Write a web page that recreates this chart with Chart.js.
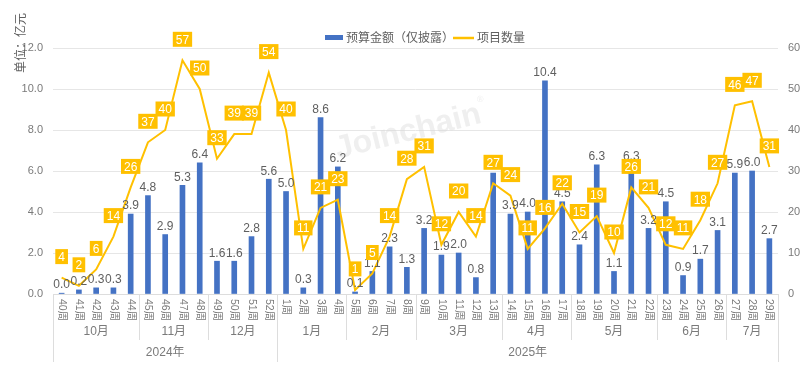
<!DOCTYPE html>
<html>
<head>
<meta charset="utf-8">
<script src="https://cdn.jsdelivr.net/npm/chart.js@4"></script>
<style>
  html, body { margin: 0; padding: 0; background: #fff; }
  #wrap { width: 803px; height: 377px; }
</style>
</head>
<body>
<div id="wrap"><canvas id="chart" width="803" height="377"></canvas></div>
<script>
const weeks = ['40周','41周','42周','43周','44周','45周','46周','47周','48周','49周','50周','51周','52周',
  '1周','2周','3周','4周','5周','6周','7周','8周','9周','10周','11周','12周','13周','14周','15周','16周','17周',
  '18周','19周','20周','21周','22周','23周','24周','25周','26周','27周','28周','29周'];
// 预算金额（亿元）
const budget = [0.04, 0.2, 0.3, 0.3, 3.9, 4.8, 2.9, 5.3, 6.4, 1.6, 1.6, 2.8, 5.6,
  5.0, 0.3, 8.6, 6.2, 0.1, 1.1, 2.3, 1.3, 3.2, 1.9, 2.0, 0.8, 5.9, 3.9, 4.0, 10.4, 4.5,
  2.4, 6.3, 1.1, 6.3, 3.2, 4.5, 0.9, 1.7, 3.1, 5.9, 6.0, 2.7];
// 项目数量
const counts = [4, 2, 6, 14, 26, 37, 40, 57, 50, 33, 39, 39, 54,
  40, 11, 21, 23, 1, 5, 14, 28, 31, 12, 20, 14, 27, 24, 11, 16, 22,
  15, 19, 10, 26, 21, 12, 11, 18, 27, 46, 47, 31];
const months = ['10月','11月','12月','1月','2月','3月','4月','5月','6月','7月'];
const monthSizes = [5, 4, 4, 4, 4, 5, 4, 5, 4, 3];
const years = ['2024年','2025年'];
const yearSizes = [13, 29];

const FONT = '"Liberation Sans", "Noto Sans CJK SC", sans-serif';
const BLUE = '#4472C4';
const YELLOW = '#FFC000';
const GREY = '#7a7a7a';
const LINE_GREY = '#dddddd';

// 水印
const watermark = {
  id: 'watermark',
  beforeDatasetsDraw(chart) {
    const ctx = chart.ctx;
    ctx.save();
    ctx.translate(408, 132);
    ctx.rotate(-14 * Math.PI / 180);
    ctx.font = 'bold 32px ' + FONT;
    ctx.fillStyle = 'rgba(215,215,215,0.4)';
    ctx.textAlign = 'center';
    ctx.textBaseline = 'middle';
    ctx.fillText('Joinchain', 0, 0);
    ctx.font = '9px ' + FONT;
    ctx.fillText('®', 78, -14);
    ctx.restore();
  }
};

// 数据标签
const valueLabels = {
  id: 'valueLabels',
  afterDatasetsDraw(chart) {
    const ctx = chart.ctx;
    ctx.save();
    const barMeta = chart.getDatasetMeta(0);
    ctx.font = '12px ' + FONT;
    ctx.fillStyle = '#5f5f5f';
    ctx.textAlign = 'center';
    ctx.textBaseline = 'bottom';
    barMeta.data.forEach((bar, i) => {
      ctx.fillText(budget[i].toFixed(1), bar.x, bar.y - 2);
    });
    const lineMeta = chart.getDatasetMeta(1);
    ctx.textBaseline = 'middle';
    lineMeta.data.forEach((pt, i) => {
      const txt = String(counts[i]);
      const w = ctx.measureText(txt).width + 6;
      const h = 15;
      const cy = pt.y - 21;
      ctx.fillStyle = YELLOW;
      ctx.fillRect(pt.x - w / 2, cy - h / 2, w, h);
      ctx.fillStyle = '#ffffff';
      ctx.fillText(txt, pt.x, cy + 1);
    });
    ctx.restore();
  }
};

// 多级X轴、图例、轴标题
const decorations = {
  id: 'decorations',
  afterDraw(chart) {
    const ctx = chart.ctx;
    const area = chart.chartArea;
    const xs = chart.scales.x;
    const step = (area.right - area.left) / weeks.length;
    ctx.save();

    // 周标签（顺时针旋转）
    ctx.font = '10.5px ' + FONT;
    ctx.fillStyle = GREY;
    weeks.forEach((w, i) => {
      const x = xs.getPixelForValue(i);
      ctx.save();
      ctx.translate(x, area.bottom + 5);
      ctx.rotate(Math.PI / 2);
      ctx.textAlign = 'left';
      ctx.textBaseline = 'middle';
      ctx.fillText(w, 0, 0);
      ctx.restore();
    });

    // 底部线
    ctx.strokeStyle = LINE_GREY;
    ctx.lineWidth = 1;
    ctx.beginPath();
    ctx.moveTo(area.left, area.bottom + 0.5);
    ctx.lineTo(area.right, area.bottom + 0.5);
    ctx.stroke();

    // 月份分隔与标签
    const monthBottom = area.bottom + 46;
    const yearBottom = area.bottom + 68;
    ctx.font = '12px ' + FONT;
    ctx.textAlign = 'center';
    ctx.textBaseline = 'middle';
    let idx = 0;
    months.forEach((m, k) => {
      const x0 = area.left + idx * step;
      const x1 = x0 + monthSizes[k] * step;
      ctx.beginPath();
      ctx.moveTo(Math.round(x0) + 0.5, area.bottom);
      ctx.lineTo(Math.round(x0) + 0.5, monthBottom);
      ctx.stroke();
      ctx.fillStyle = GREY;
      ctx.fillText(m, (x0 + x1) / 2, area.bottom + 38);
      idx += monthSizes[k];
    });

    // 年份
    idx = 0;
    years.forEach((y, k) => {
      const x0 = area.left + idx * step;
      const x1 = x0 + yearSizes[k] * step;
      ctx.beginPath();
      ctx.moveTo(Math.round(x0) + 0.5, area.bottom);
      ctx.lineTo(Math.round(x0) + 0.5, yearBottom);
      ctx.stroke();
      ctx.fillText(y, (x0 + x1) / 2, area.bottom + 59);
      idx += yearSizes[k];
    });
    ctx.beginPath();
    ctx.moveTo(Math.round(area.right) + 0.5, area.bottom);
    ctx.lineTo(Math.round(area.right) + 0.5, yearBottom);
    ctx.stroke();

    // 左轴标题
    ctx.save();
    ctx.translate(22, 43);
    ctx.rotate(-Math.PI / 2);
    ctx.fillStyle = '#5f5f5f';
    ctx.font = '12px ' + FONT;
    ctx.fillText('单位：亿元', 0, 0);
    ctx.restore();

    // 图例
    ctx.font = '12px ' + FONT;
    ctx.textAlign = 'left';
    ctx.fillStyle = BLUE;
    ctx.fillRect(325, 35, 18, 5);
    ctx.fillStyle = '#5f5f5f';
    ctx.fillText('预算金额（仅披露）', 346, 39);
    ctx.strokeStyle = YELLOW;
    ctx.lineWidth = 2.5;
    ctx.beginPath();
    ctx.moveTo(453, 38);
    ctx.lineTo(474, 38);
    ctx.stroke();
    ctx.fillText('项目数量', 477, 39);

    ctx.restore();
  }
};

new Chart(document.getElementById('chart'), {
  type: 'bar',
  data: {
    labels: weeks,
    datasets: [
      {
        label: '预算金额（仅披露）',
        data: budget,
        backgroundColor: BLUE,
        barThickness: 5,
        yAxisID: 'y',
        order: 1
      },
      {
        type: 'line',
        label: '项目数量',
        data: counts,
        borderColor: YELLOW,
        borderWidth: 2,
        pointRadius: 0,
        tension: 0,
        fill: false,
        yAxisID: 'y1',
        order: 0
      }
    ]
  },
  options: {
    responsive: false,
    animation: false,
    layout: { padding: { top: 48, left: 0, right: 0, bottom: 0 } },
    plugins: {
      legend: { display: false },
      tooltip: { enabled: false }
    },
    scales: {
      x: {
        ticks: { display: false },
        grid: { display: false },
        border: { display: false },
        afterFit(scale) { scale.height = 83; }
      },
      y: {
        position: 'left',
        min: 0,
        max: 12,
        ticks: {
          stepSize: 2,
          padding: 10,
          color: GREY,
          font: { size: 11, family: FONT },
          callback: v => v.toFixed(1)
        },
        grid: { color: '#e6e6e6', drawTicks: false },
        border: { display: false },
        afterFit(scale) { scale.width = 53; }
      },
      y1: {
        position: 'right',
        min: 0,
        max: 60,
        ticks: {
          stepSize: 10,
          padding: 10,
          color: GREY,
          font: { size: 11, family: FONT }
        },
        grid: { display: false, drawTicks: false },
        border: { display: false },
        afterFit(scale) { scale.width = 25; }
      }
    }
  },
  plugins: [watermark, valueLabels, decorations]
});
</script>
</body>
</html>
